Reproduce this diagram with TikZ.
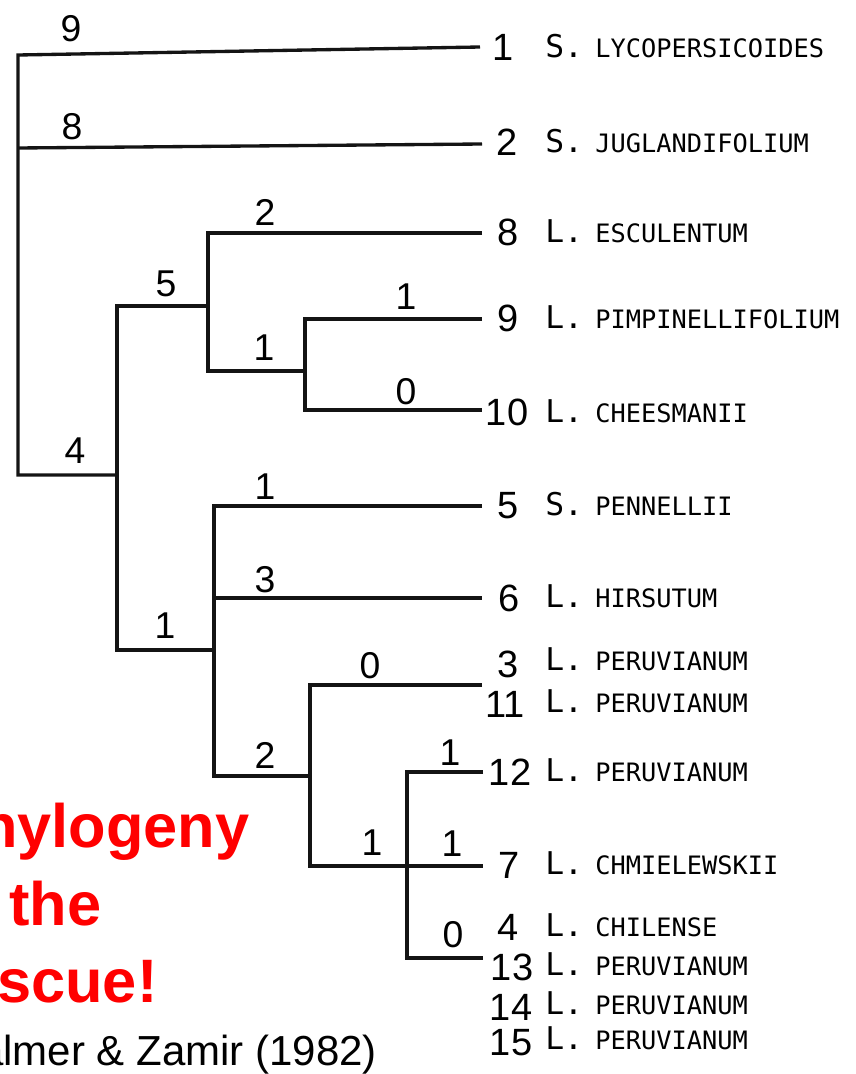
\documentclass[tikz,border=0pt]{standalone}
\usepackage{fontspec}
\setmainfont{Liberation Sans}
\newfontfamily\monofont{DejaVu Sans Mono}
\begin{document}
\begin{tikzpicture}[x=0.75pt,y=-0.75pt,
  branch/.style={draw=black!92, line width=2.5pt, line join=miter},
  blen/.style={font=\fontsize{28}{30}\selectfont, inner sep=0pt, anchor=center},
  leafnum/.style={font=\fontsize{28.5}{30}\selectfont, inner sep=0pt, anchor=center},
  genus/.style={font=\monofont\fontsize{23.5}{25}\selectfont, inner sep=0pt, anchor=base west},
  species/.style={font=\monofont\fontsize{19}{20}\selectfont, inner sep=0pt, anchor=base west},
  slogan/.style={font=\bfseries\fontsize{46}{50}\selectfont, text=red, inner sep=0pt, anchor=base west},
  cite/.style={font=\fontsize{31.5}{34}\selectfont, inner sep=0pt, anchor=base west}]

\path[use as bounding box] (0,0) rectangle (856,1074);
\clip (0,0) rectangle (856,1074);

% stem of the root and joints of the internal nodes
\coordinate (rt) at (18,55);
\coordinate (r2) at (18,148);
\coordinate (r)  at (18,475);
\coordinate (nA) at (117,475);
\coordinate (nB) at (208,306);
\coordinate (nD) at (305,371);
\coordinate (nC) at (214,650);
\coordinate (nE) at (310,776);
\coordinate (nF) at (407,866);

% tips of the terminal branches
\coordinate (t1)  at (480,47);
\coordinate (t2)  at (482,144);
\coordinate (t8)  at (482,233);
\coordinate (t9)  at (482,319);
\coordinate (t10) at (482,410);
\coordinate (t5)  at (482,506);
\coordinate (t6)  at (482,598);
\coordinate (t3)  at (482,685);
\coordinate (t12) at (483,772);
\coordinate (t7)  at (483,866);
\coordinate (t4)  at (483,958);

% branches
\draw[branch] (t1) -- (rt) -- (r) -- (nA);
\draw[branch] (r2) -- (t2);
\draw[branch] (nB) -| (nA) |- (nC);
\draw[branch] (t8) -| (nB) |- (nD);
\draw[branch] (t9) -| (nD) |- (t10);
\draw[branch] (t5) -| (nC) |- (nE);
\draw[branch] (nC |- t6) -- (t6);
\draw[branch] (t3) -| (nE) |- (nF);
\draw[branch] (t12) -| (nF) |- (t4);
\draw[branch] (nF) -- (t7);

% branch lengths
\node[blen] (b1)  at (71,29)   {9};
\node[blen] (b2)  at (72,127)  {8};
\node[blen] (bA)  at (75,451)  {4};
\node[blen] (bB)  at (166,284) {5};
\node[blen] (b8)  at (265,212) {2};
\node[blen] (bD)  at (264,348) {1};
\node[blen] (b9)  at (406,297) {1};
\node[blen] (b10) at (406,392) {0};
\node[blen] (bC)  at (165,626) {1};
\node[blen] (b5)  at (265,487) {1};
\node[blen] (b6)  at (265,580) {3};
\node[blen] (bE)  at (265,755) {2};
\node[blen] (b3)  at (370,666) {0};
\node[blen] (bF)  at (372,843) {1};
\node[blen] (b12) at (450,753) {1};
\node[blen] (b7)  at (452,844) {1};
\node[blen] (b4)  at (453,935) {0};

% terminal taxa: number, genus, species
\foreach \id/\nx/\ny/\base/\gen/\sp in {
  1/503/47/58/S./LYCOPERSICOIDES,
  2/507/142/152/S./JUGLANDIFOLIUM,
  8/508/232/242/L./ESCULENTUM,
  9/508/318/328/L./PIMPINELLIFOLIUM,
  10/507/412/422/L./CHEESMANII,
  5/508/506/515/S./PENNELLII,
  6/509/598/607/L./HIRSUTUM,
  3/508/664/670/L./PERUVIANUM,
  11/505/704/712/L./PERUVIANUM,
  12/510/772/781/L./PERUVIANUM,
  7/509/865/874/L./CHMIELEWSKII,
  4/508/927/936/L./CHILENSE,
  13/512/967/975/L./PERUVIANUM,
  14/511/1007/1014/L./PERUVIANUM,
  15/511/1043/1049/L./PERUVIANUM}{
  \node[leafnum] (n\id) at (\nx,\ny) {\id};
  \node[genus] (g\id) at (545,\base) {\gen};
  \node[species] (s\id) at (595,\base) {\sp};
}

% slogan and citation, running off the left edge
\node[slogan] (sl1) at (-61,847)  {Phylogeny};
\node[slogan] (sl2) at (-66,925)  {to the};
\node[slogan] (sl3) at (-61,1002) {rescue!};
\node[cite] (ref) at (-48,1065) {Palmer \& Zamir (1982)};
\end{tikzpicture}
\end{document}
